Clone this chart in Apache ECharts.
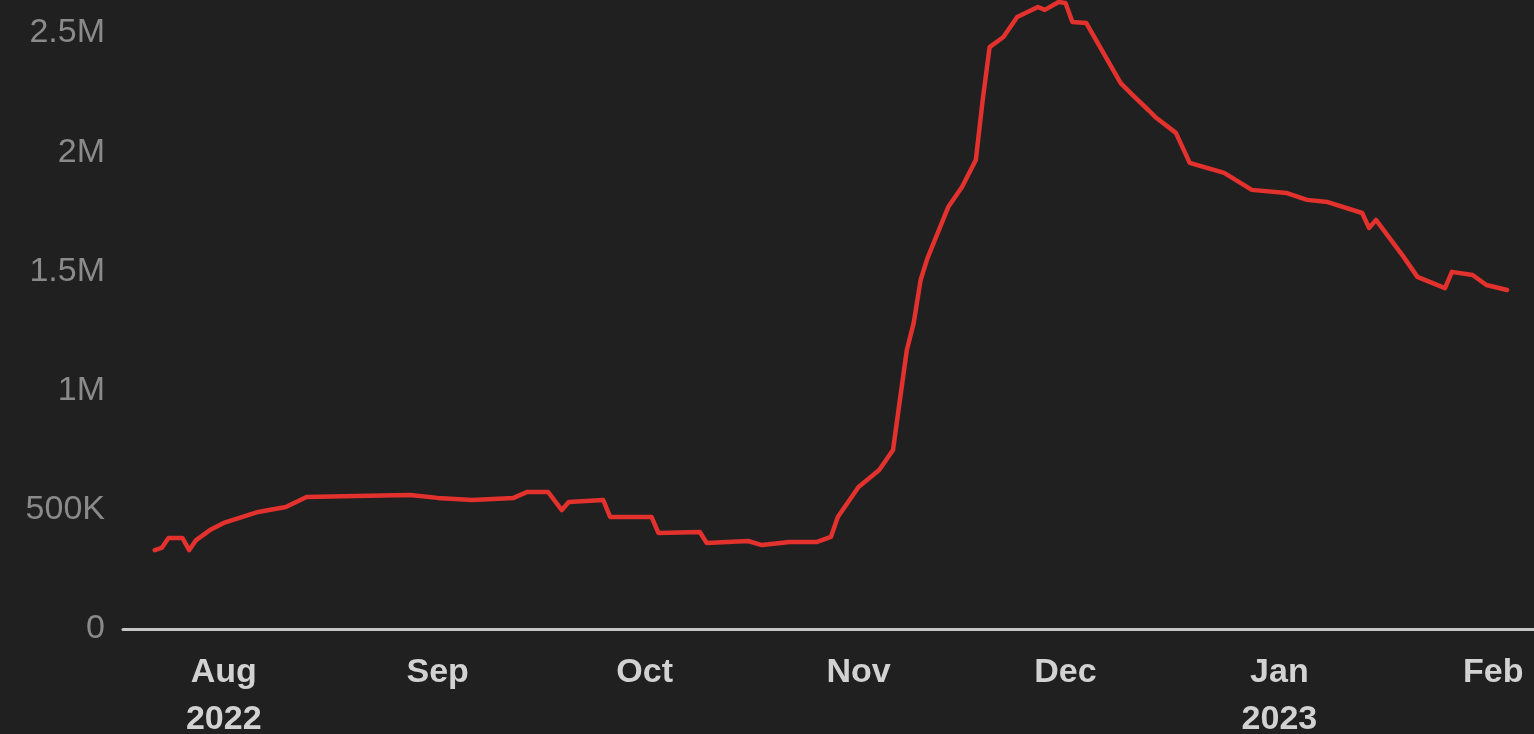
<!DOCTYPE html>
<html>
<head>
<meta charset="utf-8">
<script src="https://cdn.jsdelivr.net/npm/echarts@6/dist/echarts.min.js"></script>
<style>
  html, body { margin: 0; padding: 0; background: #202020; }
  #chart { width: 1534px; height: 734px; }
</style>
</head>
<body>
<div id="chart"></div>
<script>
// dates (one every few days where the line bends)
const dates = [
  '2022-07-22', '2022-07-23', '2022-07-24', '2022-07-26', '2022-07-27', '2022-07-28', '2022-07-30',
  '2022-08-01', '2022-08-06', '2022-08-10', '2022-08-13', '2022-08-20', '2022-08-28',
  '2022-09-01', '2022-09-06', '2022-09-12', '2022-09-14', '2022-09-17', '2022-09-19', '2022-09-20',
  '2022-09-25', '2022-09-26', '2022-10-02', '2022-10-03', '2022-10-09', '2022-10-10', '2022-10-16',
  '2022-10-18', '2022-10-22', '2022-10-26', '2022-10-28', '2022-10-29',
  '2022-11-01', '2022-11-04', '2022-11-06', '2022-11-07', '2022-11-08', '2022-11-09', '2022-11-10',
  '2022-11-11', '2022-11-14', '2022-11-16', '2022-11-18', '2022-11-19', '2022-11-20', '2022-11-22',
  '2022-11-24', '2022-11-27', '2022-11-28', '2022-11-30',
  '2022-12-01', '2022-12-02', '2022-12-04', '2022-12-09', '2022-12-11', '2022-12-13', '2022-12-14',
  '2022-12-17', '2022-12-19', '2022-12-24', '2022-12-28',
  '2023-01-02', '2023-01-05', '2023-01-08', '2023-01-13', '2023-01-14', '2023-01-15', '2023-01-19',
  '2023-01-21', '2023-01-25', '2023-01-26', '2023-01-29', '2023-01-31', '2023-02-03'
];

const values = [
  331000, 340000, 382000, 382000, 331000, 373000, 415000,
  445000, 491000, 512000, 554000, 558000, 562000,
  550000, 541000, 550000, 575000, 575000, 499000, 533000,
  541000, 470000, 470000, 403000, 407000, 361000, 369000,
  352000, 365000, 365000, 386000, 470000,
  596000, 667000, 751000, 961000, 1170000, 1284000, 1464000,
  1556000, 1770000, 1854000, 1967000, 2219000, 2441000, 2483000,
  2567000, 2609000, 2597000, 2630000,
  2626000, 2546000, 2542000, 2290000, 2232000, 2177000, 2148000,
  2081000, 1955000, 1913000, 1842000,
  1829000, 1800000, 1791000, 1745000, 1682000, 1716000, 1561000,
  1477000, 1430000, 1498000, 1485000, 1443000, 1422000
];

const monthTicks = ['2022-08-01', '2022-09-01', '2022-10-01', '2022-11-01', '2022-12-01', '2023-01-01', '2023-02-01'];
const monthLabels = ['Aug\n2022', 'Sep', 'Oct', 'Nov', 'Dec', 'Jan\n2023', 'Feb'];
const yTicks = [0, 500000, 1000000, 1500000, 2000000, 2500000];
const yTickLabels = ['0', '500K', '1M', '1.5M', '2M', '2.5M'];

const toTime = (s) => {
  const [y, m, d] = s.split('-').map(Number);
  return Date.UTC(y, m - 1, d);
};

const day = 24 * 3600 * 1000;
const aug1 = toTime('2022-08-01');
const tickTimes = monthTicks.map(toTime);

const chart = echarts.init(document.getElementById('chart'));

const option = {
  backgroundColor: '#202020',
  animation: false,
  grid: {
    left: 123,
    right: 0,
    top: 33,
    bottom: 105,
    containLabel: false,
    outerBoundsMode: 'none'
  },
  xAxis: {
    type: 'value',
    min: aug1 - 14.6 * day,
    max: aug1 + 189.9 * day,
    axisLine: { show: true, lineStyle: { color: '#c6c6c6', width: 3 } },
    axisTick: { show: false },
    splitLine: { show: false },
    axisLabel: {
      customValues: tickTimes,
      color: '#d2d2d2',
      fontFamily: 'Liberation Sans',
      fontWeight: 'bold',
      fontSize: 34,
      lineHeight: 47,
      margin: 20,
      hideOverlap: false,
      showMinLabel: true,
      showMaxLabel: true,
      formatter: (val) => {
        const i = tickTimes.indexOf(val);
        return i >= 0 ? monthLabels[i] : '';
      }
    }
  },
  yAxis: {
    type: 'value',
    min: 0,
    max: 2500000,
    interval: 500000,
    axisLine: { show: false },
    axisTick: { show: false },
    splitLine: { show: false },
    axisLabel: {
      color: '#8a8a8a',
      fontFamily: 'Liberation Sans',
      fontSize: 34,
      margin: 18,
      formatter: (val) => {
        const i = yTicks.indexOf(val);
        return i >= 0 ? yTickLabels[i] : '';
      }
    }
  },
  series: [{
    type: 'line',
    data: dates.map((d, i) => [toTime(d), values[i]]),
    showSymbol: false,
    symbol: 'none',
    clip: false,
    lineStyle: { color: '#e3312d', width: 4.5, join: 'round', cap: 'round' }
  }]
};

chart.setOption(option);
</script>
</body>
</html>
